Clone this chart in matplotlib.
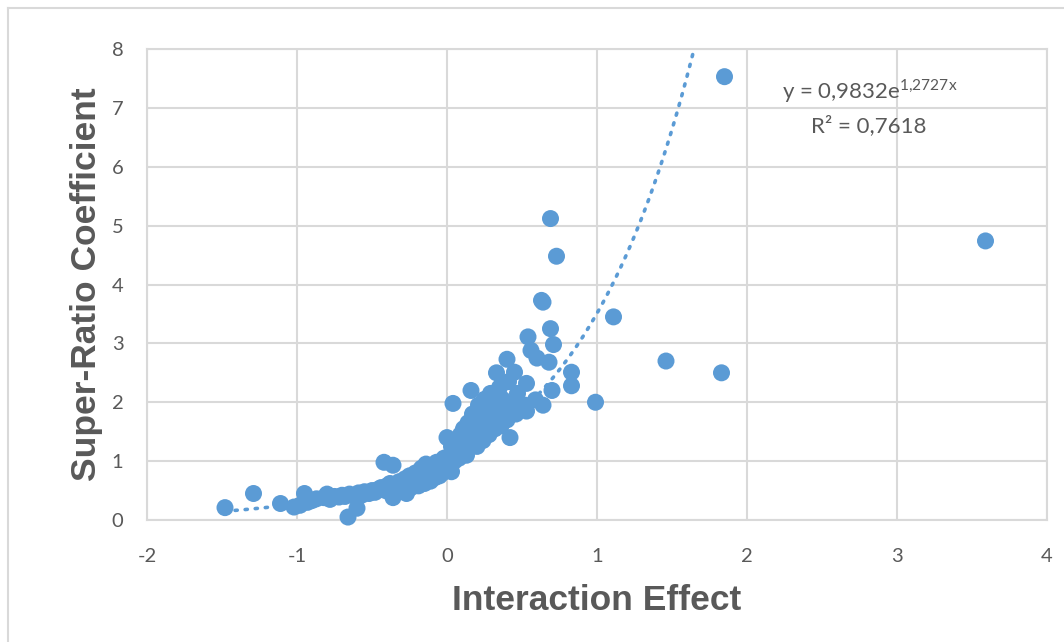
import numpy as np
import matplotlib
matplotlib.use("Agg")
import matplotlib.pyplot as plt
from matplotlib.lines import Line2D

plt.rcParams["axes.unicode_minus"] = False

# ---- data ----
interaction_effect = [
    -1.48, -1.29, -1.11, -1.02, -0.98, -0.95, -0.93, -0.90, -0.87, -0.82,
    -0.80, -0.78, -0.75, -0.72, -0.70, -0.68, -0.66, -0.65, -0.62, -0.60,
    -0.59, -0.57, -0.55, -0.52, -0.50, -0.48, -0.46, -0.44, -0.42, -0.41,
    -0.40, -0.38, -0.36, -0.36, -0.35, -0.33, -0.32, -0.30, -0.29, -0.28,
    -0.27, -0.26, -0.25, -0.24, -0.23, -0.22, -0.21, -0.20, -0.19, -0.18,
    -0.17, -0.16, -0.15, -0.14, -0.13, -0.12, -0.11, -0.10, -0.09, -0.08,
    -0.07, -0.06, -0.05, -0.04, -0.03, -0.02, -0.01, 0.00, 0.01, 0.02,
    0.03, 0.03, 0.04, 0.05, 0.06, 0.07, 0.08, 0.09, 0.10, 0.11,
    0.12, 0.13, 0.14, 0.15, 0.16, 0.16, 0.17, 0.18, 0.19, 0.20,
    0.21, 0.22, 0.23, 0.24, 0.25, 0.26, 0.27, 0.28, 0.29, 0.30,
    0.31, 0.32, 0.33, 0.34, 0.35, 0.36, 0.37, 0.38, 0.40, 0.40,
    0.41, 0.42, 0.43, 0.45, 0.46, 0.47, 0.49, 0.52, 0.53, 0.53,
    0.54, 0.56, 0.59, 0.60, 0.63, 0.64, 0.64, 0.68, 0.69, 0.69,
    0.70, 0.71, 0.73, 0.83, 0.83, 0.99, 1.11, 1.46, 1.83, 1.85,
    3.59,
]
super_ratio = [
    0.21, 0.45, 0.28, 0.22, 0.25, 0.45, 0.30, 0.33, 0.36, 0.38,
    0.44, 0.35, 0.40, 0.39, 0.42, 0.40, 0.05, 0.44, 0.41, 0.20,
    0.46, 0.42, 0.48, 0.45, 0.50, 0.47, 0.52, 0.55, 0.98, 0.50,
    0.58, 0.62, 0.93, 0.38, 0.55, 0.48, 0.65, 0.60, 0.52, 0.70,
    0.45, 0.62, 0.75, 0.55, 0.68, 0.60, 0.80, 0.72, 0.58, 0.65,
    0.88, 0.75, 0.62, 0.95, 0.70, 0.82, 0.66, 0.90, 0.78, 0.72,
    0.98, 0.85, 0.75, 0.92, 0.80, 1.05, 0.88, 1.40, 0.95, 1.10,
    0.82, 1.25, 1.98, 1.00, 1.15, 1.30, 1.05, 1.45, 1.20, 1.55,
    1.35, 1.10, 1.65, 1.28, 2.20, 1.48, 1.80, 1.38, 1.60, 1.25,
    1.95, 1.50, 1.70, 1.35, 2.05, 1.58, 1.85, 1.45, 2.15, 1.65,
    1.95, 1.55, 2.50, 1.75, 2.25, 1.60, 2.05, 1.85, 2.73, 1.70,
    2.35, 1.40, 1.95, 2.51, 1.80, 2.15, 1.87, 1.95, 2.32, 1.85,
    3.11, 2.88, 2.04, 2.75, 3.73, 1.95, 3.70, 2.68, 3.25, 5.12,
    2.20, 2.98, 4.48, 2.51, 2.28, 2.00, 3.45, 2.70, 2.50, 7.53,
    4.74,
]

# exponential trend line shown on the chart: y = a * exp(b * x)
trend_a = 0.9832
trend_b = 1.2727
trend_r2 = 0.7618

x_ticks = [-2, -1, 0, 1, 2, 3, 4]
y_ticks = [0, 1, 2, 3, 4, 5, 6, 7, 8]

x_label = "Interaction Effect"
y_label = "Super-Ratio Coefficient"
eq_label = r"y = 0,9832e$^{\mathregular{1{,}2727x}}$"
r2_label = "R² = 0,7618"

# ---- style ----
blue = "#5B9BD5"
grid_c = "#D9D9D9"
text_c = "#595959"
tick_font = ["Lato", "DejaVu Sans"]
label_font = ["Liberation Sans", "DejaVu Sans"]

fig = plt.figure(figsize=(10.64, 6.42), dpi=100)
ax = fig.add_axes([147 / 1064, 1 - 520 / 642, 900 / 1064, 471 / 642])

ax.set_xlim(min(x_ticks), max(x_ticks))
ax.set_ylim(min(y_ticks), max(y_ticks))
ax.set_xticks(x_ticks)
ax.set_yticks(y_ticks)
ax.grid(True, color=grid_c, linewidth=1.5)
ax.set_axisbelow(True)
for s in ax.spines.values():
    s.set_color(grid_c)
    s.set_linewidth(1.5)
ax.tick_params(length=0, labelsize=14.5, labelcolor=text_c)
ax.tick_params(axis="x", pad=20)
ax.tick_params(axis="y", pad=17)
for lab in ax.get_xticklabels() + ax.get_yticklabels():
    lab.set_family(tick_font)

ax.scatter(interaction_effect, super_ratio, s=150, color=blue,
           edgecolors="none", zorder=3, clip_on=False)

x_min = min(interaction_effect)
x_max = np.log(max(y_ticks) / trend_a) / trend_b
xt = np.linspace(x_min, x_max, 300)
ax.plot(xt, trend_a * np.exp(trend_b * xt), linestyle=(0, (0.6, 2.2)),
        color=blue, linewidth=2.6, dash_capstyle="round", zorder=4)

ax.text(2.82, 7.28, eq_label, ha="center", va="center",
        fontsize=16, color=text_c, family=tick_font)
ax.text(2.81, 6.7, r2_label, ha="center", va="center",
        fontsize=16, color=text_c, family=tick_font)

ax.set_xlabel(x_label, fontsize=25.5, fontweight="bold", color=text_c,
              family=label_font, labelpad=14)
ax.set_ylabel(y_label, fontsize=25.5, fontweight="bold", color=text_c,
              family=label_font, labelpad=6)

# outer chart border (top and left visible)
fig.add_artist(Line2D([8 / 1064, 1], [1 - 8 / 642, 1 - 8 / 642],
                      transform=fig.transFigure, color=grid_c, linewidth=1.5))
fig.add_artist(Line2D([8 / 1064, 8 / 1064], [0, 1 - 8 / 642],
                      transform=fig.transFigure, color=grid_c, linewidth=1.5))

fig.savefig("out.png", dpi=100)
